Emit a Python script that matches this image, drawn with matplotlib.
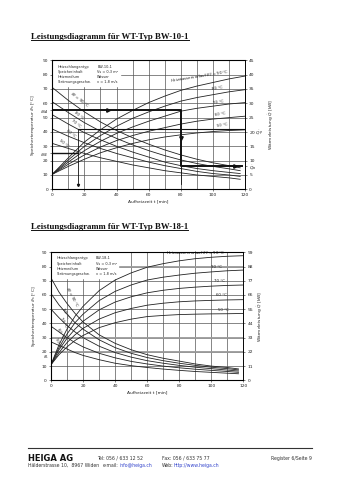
import matplotlib
matplotlib.use("Agg")
import matplotlib.pyplot as plt
import numpy as np

# --- BW-10-1 ---------------------------------------------------------------
t_top = [0, 10, 20, 30, 40, 50, 60, 70, 80, 90, 100, 110, 120]
t_top_fall = [0, 10, 20, 30, 40, 50, 60, 70, 80, 90, 100, 110, 117]
rise_top = {
    90: [10.5, 22, 33, 41.5, 49, 55, 60.5, 65, 69, 72, 74.5, 77, 79],
    80: [10.5, 20.5, 30, 37.5, 44, 49.5, 54, 58, 61.5, 64, 66, 68, 69.5],
    70: [10.5, 19, 27, 33.5, 39, 43.5, 47.5, 51, 54.5, 56.5, 58, 59.5, 60.5],
    60: [10.5, 17.5, 24, 29.5, 34, 37.5, 40.5, 43, 45.5, 47.5, 49, 50, 51],
    50: [10.5, 16, 21, 25.5, 29, 32, 34.5, 36.5, 38, 39.3, 40.3, 41, 41.5],
}
# power curves, values in left-axis units (2 x kW)
fall_top = {
    90: [71, 62, 54, 47, 41, 36, 31.5, 27.5, 24, 21, 18.5, 16.5, 15],
    80: [61, 53.5, 46.5, 40.5, 35.5, 31, 27, 23.5, 20.5, 18, 16, 14.3, 13],
    70: [52, 45.5, 39.5, 34.5, 30, 26, 22.5, 19, 16.5, 14.5, 13, 11.8, 11],
    60: [42, 37, 32.5, 28.5, 25, 22, 19, 16.5, 14.5, 12.5, 11, 10, 9],
    50: [32, 28.5, 25, 22, 19.5, 17, 15, 13, 11.5, 10, 9, 8, 7],
}
theta_SA, theta_SE = 55, 25
t_a, t_p = 80, 16
Qa_left, Qp_left = 16, 42

# --- BW-18-1 ---------------------------------------------------------------
t_bot = [0, 5, 10, 15, 20, 30, 40, 50, 60, 70, 80, 90, 100, 110, 120]
t_bot_fall = [0, 5, 10, 15, 20, 30, 40, 50, 60, 70, 80, 90, 100, 110, 117]
rise_bot = {
    90: [11, 25, 36, 45, 52, 63, 70.5, 75.5, 79.5, 82, 84, 85.5, 86.5, 87.2, 87.6],
    80: [11, 23, 32.5, 40.5, 46.5, 56, 62.5, 67, 70.5, 72.5, 74, 75.3, 76.2, 77, 77.5],
    70: [11, 21.5, 29.5, 36, 41.5, 49.5, 55, 58.7, 61.5, 63.3, 64.6, 65.5, 66.2, 66.7, 67],
    60: [11, 19.5, 26.5, 32, 36.5, 43, 47.5, 50.5, 52.8, 54.2, 55.2, 55.8, 56.2, 56.5, 56.7],
    50: [11, 18, 23.5, 28, 31.5, 37, 40.5, 43, 44.8, 45.6, 46.2, 46.5, 46.7, 46.8, 47],
}
fall_bot = {
    90: [72, 62, 54, 47, 41, 32, 26, 21.5, 18, 15.5, 13.5, 11.5, 10, 9, 8],
    80: [61, 53, 46.5, 40.5, 36, 28.5, 23, 19, 16, 13.8, 12, 10.5, 9.2, 8.2, 7.3],
    70: [50, 44, 38.5, 34, 30, 24, 19.5, 16.3, 13.8, 12, 10.5, 9.2, 8.2, 7.2, 6.5],
    60: [38, 34, 30, 26.5, 23.5, 19, 15.8, 13.3, 11.5, 10, 8.8, 7.8, 7, 6.2, 5.6],
    50: [27, 24.5, 22, 19.5, 17.5, 14.5, 12, 10.3, 9, 7.9, 7, 6.2, 5.6, 5, 4.6],
}

fig = plt.figure(figsize=(3.39, 4.80), dpi=100)
plt.rcParams['font.family'] = ['DejaVu Sans']
fs = 3.2
ink = '#222222'


def base_axes(rect, right_max, right_ticks, right_labels, left_ticks, left_labels):
    ax = fig.add_axes(rect)
    ax.set_xlim(0, 120)
    ax.set_ylim(0, 90)
    for x in range(10, 120, 10):
        ax.axvline(x, color='#555555', lw=0.5, zorder=1)
    for y in range(10, 90, 10):
        ax.axhline(y, color='#555555', lw=0.5, zorder=1)
    ax.set_xticks(range(0, 121, 20))
    ax.set_yticks(left_ticks)
    ax.set_yticklabels(left_labels)
    ax.tick_params(labelsize=fs, length=1.5, width=0.4, pad=1.5, colors=ink)
    for s in ax.spines.values():
        s.set_linewidth(0.6)
        s.set_color(ink)
    ax.set_xlabel('Aufheizzeit t [min]', fontsize=fs, labelpad=1.5, color=ink)
    ax.set_ylabel(r'Speichertemperatur $\vartheta_s$ [°C]', fontsize=fs, labelpad=2, color=ink)
    ax2 = ax.twinx()
    ax2.set_ylim(0, right_max)
    ax2.set_yticks(right_ticks)
    ax2.set_yticklabels(right_labels)
    ax2.tick_params(labelsize=fs, length=1.5, width=0.4, pad=1.5, colors=ink)
    ax2.spines['right'].set_linewidth(0.6)
    ax2.set_ylabel(r'Wärmeleistung $\dot{Q}$ [kW]', fontsize=fs, labelpad=2, color=ink)
    return ax


def info_box(ax, rows):
    ax.fill_between([0.5, 42], 72, 89.5, color='white', zorder=2)
    ys = [86.0, 82.3, 78.6, 74.9]
    for (k, v), y in zip(rows, ys):
        ax.text(3.3, y, k, fontsize=2.5, va='center_baseline', color=ink, zorder=3)
        ax.text(28, y, v, fontsize=2.5, va='center_baseline', color=ink, zorder=3)


def title(y, txt):
    t = fig.text(0.092, y, txt, fontsize=6.3, fontweight='bold',
                 family='Liberation Serif', va='center', color='#111111')
    fig.canvas.draw()
    bb = t.get_window_extent().transformed(fig.transFigure.inverted())
    fig.add_artist(plt.Line2D([bb.x0, bb.x1], [bb.y0 + 0.002, bb.y0 + 0.002],
                              color='#111111', lw=0.7))


# ---- top chart ----
title(0.922, 'Leistungsdiagramm für WT-Typ BW-10-1')
ax = base_axes([0.1543, 0.6056, 0.5684, 0.2688], 45,
               [0, 5, 8, 10, 15, 20, 25, 30, 35, 40, 45],
               ['0', '5', r'$\dot{Q}_a$', '10', '15', r'20 $\dot{Q}_P$', '25', '30', '35', '40', '45'],
               [0, 10, 20, theta_SE, 30, 40, 50, theta_SA, 60, 70, 80, 90],
               ['0', '10', '20', r'$\vartheta_{SE}$', '30', '40', '50', r'$\vartheta_{SA}$', '60', '70', '80', '90'])
for v in rise_top:
    ax.plot(t_top, rise_top[v], color=ink, lw=0.6, zorder=4)
    ax.plot(t_top_fall, fall_top[v], color=ink, lw=0.6, zorder=4)
info_box(ax, [('Heizschlangentyp', 'BW-10-1'), ('Speicherinhalt', 'Vs = 0,3 m³'),
              ('Heizmedium', 'Wasser'), ('Strömungsgeschw.', 'v = 1,8 m/s')])

# reading example: charge temperature -> time -> output
ax.plot([0, t_a, t_a, 118], [theta_SA, theta_SA, Qa_left, Qa_left], color='#111111', lw=1.4, zorder=5)
ax.plot([t_a, t_a], [Qa_left, 4], color='#111111', lw=0.6, zorder=5)
ax.plot(t_a * 0.43, theta_SA, marker='>', ms=2.5, color='#111111', zorder=6)
ax.plot(t_a, (theta_SA + Qa_left) / 2, marker='v', ms=2.5, color='#111111', zorder=6)
ax.plot(114, Qa_left, marker='>', ms=2.5, color='#111111', zorder=6)
ax.plot([0, t_p], [theta_SE, theta_SE], color='#111111', lw=1.0, zorder=5)
ax.plot([t_p, t_p], [3, Qp_left], color='#111111', lw=0.6, zorder=5)
ax.plot([t_p, 120], [Qp_left, Qp_left], color='#111111', lw=0.8, zorder=5)
ax.plot(t_p, 3, marker='v', ms=1.5, color='#111111', zorder=6)

lab = dict(fontsize=2.8, color=ink, zorder=6)
ax.text(73, 74.5, r'Heizwasservorlauf $\vartheta_V$ = 90 °C', rotation=9, **lab)
for v, (x, y) in zip([80, 70, 60, 50], [(99, 69.5), (100, 59.5), (101, 51), (102, 43.5)]):
    ax.text(x, y, f'{v} °C', rotation=9, **lab)
ax.text(10, 57, r'$\vartheta_V$ = 90 °C', rotation=-38, **lab)
for v, (x, y) in zip([80, 70, 60, 50], [(13, 49), (11, 43), (8, 36), (4, 29)]):
    ax.text(x, y, f'{v} °C', rotation=-38, **lab)

# ---- bottom chart ----
title(0.528, 'Leistungsdiagramm für WT-Typ BW-18-1')
ax = base_axes([0.1504, 0.2077, 0.5673, 0.2667], 99,
               list(range(0, 100, 11)), [str(v) for v in range(0, 100, 11)],
               list(range(0, 91, 10)), [str(v) for v in range(0, 91, 10)])
for y in [20, 30, 80]:
    ax.axhline(y, color='#9a9a9a', lw=1.3, zorder=1.5)
for v in rise_bot:
    ax.plot(t_bot, rise_bot[v], color=ink, lw=0.6, zorder=4)
    ax.plot(t_bot_fall, fall_bot[v], color=ink, lw=0.6, zorder=4)
info_box(ax, [('Heizschlangentyp', 'BW-18-1'), ('Speicherinhalt', 'Vs = 0,3 m³'),
              ('Heizmedium', 'Wasser'), ('Strömungsgeschw.', 'v = 1,8 m/s')])
ax.text(-1.5, 16, r'$\vartheta_1$', fontsize=2.8, color=ink, ha='right', va='center')
ax.text(72, 88.5, r'Heizwasservorlauf $\vartheta_V$ = 90 °C', **lab)
for v, (x, y) in zip([80, 70, 60, 50], [(100, 79), (102, 69), (103, 59), (104, 49)]):
    ax.text(x, y, f'{v} °C', **lab)
ax.text(7.5, 52, r'$\vartheta_V$ = 90 °C', rotation=-62, **lab)
for v, (x, y) in zip([80, 70, 60, 50], [(6.5, 44), (5, 37), (3.5, 30), (2, 23)]):
    ax.text(x, y, f'{v} °C', rotation=-62, **lab)

# ---- footer ----
fig.add_artist(plt.Line2D([0.083, 0.920], [0.067, 0.067], color='#333333', lw=0.8))
fig.text(0.083, 0.045, 'HEIGA AG', fontsize=6, fontweight='bold', va='center', color='#111111')
ff = dict(fontsize=3.3, va='center', color='#333333')
fig.text(0.083, 0.031, 'Hälderstrasse 10,  8967 Widen', **ff)
fig.text(0.285, 0.045, 'Tel: 056 / 633 12 52', **ff)
fig.text(0.304, 0.031, 'e-mail:', **ff)
fig.text(0.352, 0.031, 'info@heiga.ch', fontsize=3.3, va='center', color='#3344cc')
fig.text(0.478, 0.045, 'Fax: 056 / 633 75 77', **ff)
fig.text(0.478, 0.031, 'Web:', **ff)
fig.text(0.513, 0.031, 'http://www.heiga.ch', fontsize=3.3, va='center', color='#3344cc')
fig.text(0.919, 0.045, 'Register 6/Seite 9', ha='right', **ff)

fig.savefig('out.png', dpi=100, facecolor='white')
